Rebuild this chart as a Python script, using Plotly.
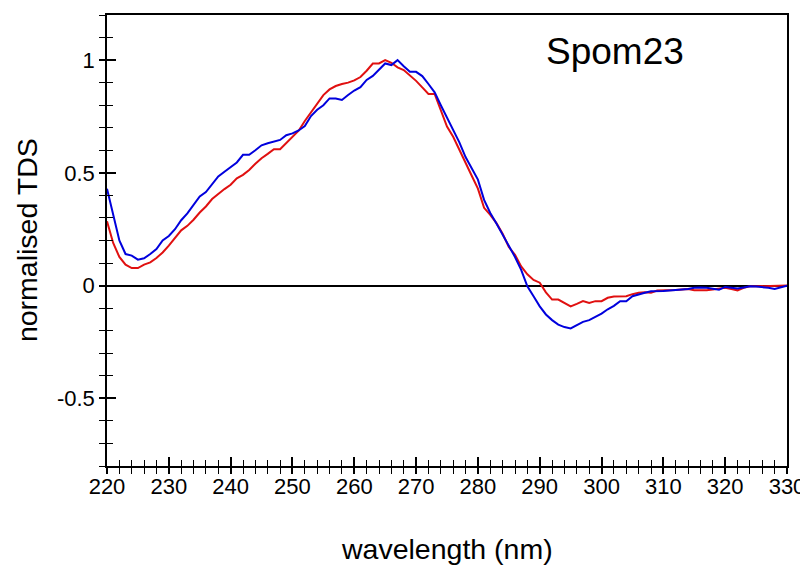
import plotly.graph_objects as go

wavelength = list(range(220, 331))

tds_blue = [
    0.43, 0.31, 0.20, 0.14, 0.133, 0.115, 0.121, 0.14, 0.162, 0.20,
    0.22, 0.25, 0.29, 0.32, 0.355, 0.395, 0.415, 0.45, 0.484, 0.505,
    0.525, 0.546, 0.58, 0.58, 0.60, 0.622, 0.631, 0.638, 0.646, 0.667,
    0.675, 0.688, 0.708, 0.752, 0.78, 0.80, 0.83, 0.83, 0.823, 0.845,
    0.865, 0.88, 0.912, 0.93, 0.956, 0.985, 0.978, 1.0, 0.973, 0.948,
    0.948, 0.929, 0.894, 0.857, 0.80, 0.745, 0.69, 0.635, 0.57, 0.52,
    0.47, 0.38, 0.322, 0.275, 0.225, 0.17, 0.127, 0.07, -0.003, -0.047,
    -0.092, -0.128, -0.153, -0.173, -0.184, -0.19, -0.177, -0.161, -0.153, -0.14,
    -0.124, -0.105, -0.09, -0.069, -0.069, -0.047, -0.038, -0.032, -0.025, -0.026,
    -0.024, -0.022, -0.02, -0.015, -0.015, -0.01, -0.008, -0.01, -0.014, -0.018,
    -0.006, -0.01, -0.013, -0.008, -0.003, -0.004, -0.006, -0.01, -0.015, -0.008,
    0.0,
]

tds_red = [
    0.285, 0.189, 0.127, 0.093, 0.078, 0.078, 0.093, 0.103, 0.122, 0.147,
    0.177, 0.211, 0.245, 0.265, 0.292, 0.324, 0.351, 0.384, 0.407, 0.428,
    0.447, 0.476, 0.491, 0.513, 0.54, 0.565, 0.584, 0.605, 0.605, 0.631,
    0.661, 0.687, 0.73, 0.77, 0.81, 0.845, 0.870, 0.885, 0.894, 0.90,
    0.91, 0.925, 0.953, 0.985, 0.985, 1.0, 0.988, 0.968, 0.956, 0.934,
    0.908, 0.879, 0.85, 0.85, 0.775, 0.705, 0.66, 0.605, 0.545, 0.487,
    0.43, 0.345, 0.314, 0.277, 0.23, 0.171, 0.137, 0.085, 0.05, 0.025,
    0.013, -0.03, -0.062, -0.062, -0.077, -0.092, -0.081, -0.069, -0.077, -0.069,
    -0.069, -0.054, -0.048, -0.047, -0.047, -0.038, -0.032, -0.03, -0.032, -0.022,
    -0.022, -0.022, -0.02, -0.017, -0.015, -0.021, -0.021, -0.021, -0.017, -0.014,
    -0.01, -0.015, -0.021, -0.01, -0.003, -0.003, -0.003, -0.002, 0.0, 0.0,
    0.0,
]

y_tickvals = [-0.5, 0, 0.5, 1]
y_ticktext = ["-0.5", "0", "0.5", "1"]
x_tickvals = list(range(220, 331, 10))
x_ticktext = [str(v) for v in x_tickvals]

FONT = "Liberation Sans, Arial, sans-serif"

fig = go.Figure()
fig.add_trace(go.Scatter(x=wavelength, y=tds_red, mode="lines",
                         line=dict(color="#e01010", width=2), showlegend=False))
fig.add_trace(go.Scatter(x=wavelength, y=tds_blue, mode="lines",
                         line=dict(color="#0000dd", width=2), showlegend=False))
# helper trace to draw the inner tick marks on the overlay axes
fig.add_trace(go.Scatter(x=[None], y=[None], xaxis="x2", yaxis="y2",
                         mode="lines", showlegend=False, hoverinfo="skip"))

xr = [220, 330]
yr = [-0.8, 1.2]

# page body has an 8px default margin, so the figure is 8px smaller
fig.update_layout(
    width=800, height=557,
    margin=dict(l=99, r=21, t=7, b=99, autoexpand=False),
    paper_bgcolor="white", plot_bgcolor="white",
    font=dict(family=FONT, color="black", size=22),
    xaxis=dict(range=xr, tickmode="array", tickvals=x_tickvals, ticktext=x_ticktext,
               ticks="outside", ticklen=6, tickwidth=1.5, tickcolor="black",
               minor=dict(tickmode="linear", tick0=220, dtick=2, ticks="outside",
                          ticklen=6, tickwidth=1.2, tickcolor="black"),
               showline=True, linecolor="black", linewidth=1.5, mirror=True,
               showgrid=False, zeroline=False, automargin=False,
               ticklabelstandoff=-6,
               tickfont=dict(size=22, family=FONT)),
    yaxis=dict(range=yr, tickmode="array", tickvals=y_tickvals, ticktext=y_ticktext,
               ticks="outside", ticklen=6, tickwidth=1.5, tickcolor="black",
               minor=dict(tickmode="linear", tick0=0, dtick=0.1, ticks="outside",
                          ticklen=6, tickwidth=1.2, tickcolor="black"),
               showline=True, linecolor="black", linewidth=1.5, mirror=True,
               showgrid=False, zeroline=True, zerolinecolor="black", zerolinewidth=1.5,
               automargin=False, tickfont=dict(size=22, family=FONT)),
    xaxis2=dict(range=xr, overlaying="x", side="bottom", tickmode="array",
                tickvals=x_tickvals, ticks="inside", ticklen=9, tickwidth=1.5,
                tickcolor="black", showticklabels=False, automargin=False,
                minor=dict(tickmode="linear", tick0=220, dtick=2, ticks="inside",
                           ticklen=6, tickwidth=1.2, tickcolor="black"),
                showline=False, showgrid=False, zeroline=False),
    yaxis2=dict(range=yr, overlaying="y", side="left", tickmode="array",
                tickvals=y_tickvals, ticks="inside", ticklen=9, tickwidth=1.5,
                tickcolor="black", showticklabels=False, automargin=False,
                minor=dict(tickmode="linear", tick0=0, dtick=0.1, ticks="inside",
                           ticklen=6, tickwidth=1.2, tickcolor="black"),
                showline=False, showgrid=False, zeroline=False),
    annotations=[
        dict(text="Spom23", xref="paper", yref="paper", x=0.747, y=0.918,
             xanchor="center", yanchor="middle", showarrow=False,
             font=dict(size=37, family=FONT)),
        dict(text="normalised TDS", xref="paper", yref="paper", x=-0.1176, y=0.501,
             xanchor="center", yanchor="middle", textangle=-90, showarrow=False,
             font=dict(size=28.5, family=FONT)),
        dict(text="wavelength (nm)", xref="paper", yref="paper", x=0.4995, y=-0.184,
             xanchor="center", yanchor="middle", showarrow=False,
             font=dict(size=28.5, family=FONT)),
    ],
)

fig.write_html("out.html")
